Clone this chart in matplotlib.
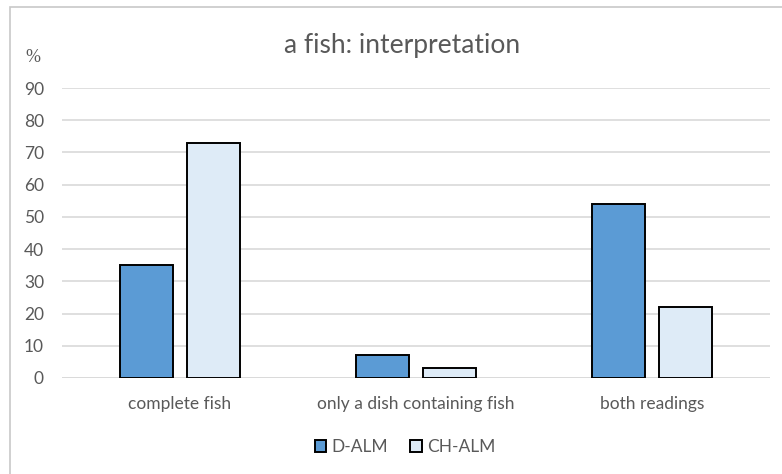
import matplotlib
matplotlib.use("Agg")
import matplotlib.pyplot as plt
from matplotlib.patches import Rectangle
import numpy as np

categories = ["complete fish", "only a dish containing fish", "both readings"]
series_names = ["D-ALM", "CH-ALM"]
d_alm = [35, 7, 54]
ch_alm = [73, 3, 22]
y_ticks = [0, 10, 20, 30, 40, 50, 60, 70, 80, 90]

colors = ["#5b9bd5", "#deebf7"]
text_gray = "#595959"
plt.rcParams["font.family"] = ["Lato", "DejaVu Sans"]

W, H = 782, 474
fig = plt.figure(figsize=(W / 100, H / 100), dpi=100)

# outer chart frame
fig.patches.append(Rectangle((10 / W, -0.01), 1.0, 1 - 7 / H + 0.01,
                             transform=fig.transFigure, fill=False,
                             edgecolor="#c8c8c8", linewidth=1.2))

ax = fig.add_axes([62 / W, 1 - 378 / H, (770 - 62) / W, (378 - 88) / H])

x = np.arange(len(categories))
bw = 0.225
gap = 0.059
off = (bw + gap) / 2
ax.bar(x - off, d_alm, bw, color=colors[0], edgecolor="black", linewidth=1.4,
       label=series_names[0], zorder=3)
ax.bar(x + off, ch_alm, bw, color=colors[1], edgecolor="black", linewidth=1.4,
       label=series_names[1], zorder=3)

ax.set_xlim(-0.5, len(categories) - 0.5)
ax.set_ylim(0, 90)
ax.set_yticks(y_ticks)
ax.yaxis.grid(True, color="#d9d9d9", linewidth=1.2, zorder=0)
ax.set_axisbelow(True)
for s in ax.spines.values():
    s.set_visible(False)
ax.axhline(0, color="#d9d9d9", linewidth=1.2, zorder=1)

ax.set_xticks(x)
ax.set_xticklabels(categories)
ax.tick_params(axis="both", length=0, colors=text_gray, labelsize=12.5)
ax.tick_params(axis="y", pad=13)
ax.tick_params(axis="x", pad=13)

fig.text(402 / W, 1 - 45 / H, "a fish: interpretation", ha="center", va="center",
         fontsize=19, color=text_gray)
fig.text(33 / W, 1 - 58 / H, "%", ha="center", va="center",
         fontsize=13, color=text_gray, family="Liberation Serif")

leg = fig.legend(loc="center", bbox_to_anchor=(405 / W, 1 - 447 / H), ncol=2,
                 frameon=False, fontsize=12.5, handlelength=0.65, handleheight=0.75,
                 handletextpad=0.3, columnspacing=1.3)
for t in leg.get_texts():
    t.set_color(text_gray)

fig.savefig("out.png", dpi=100)
